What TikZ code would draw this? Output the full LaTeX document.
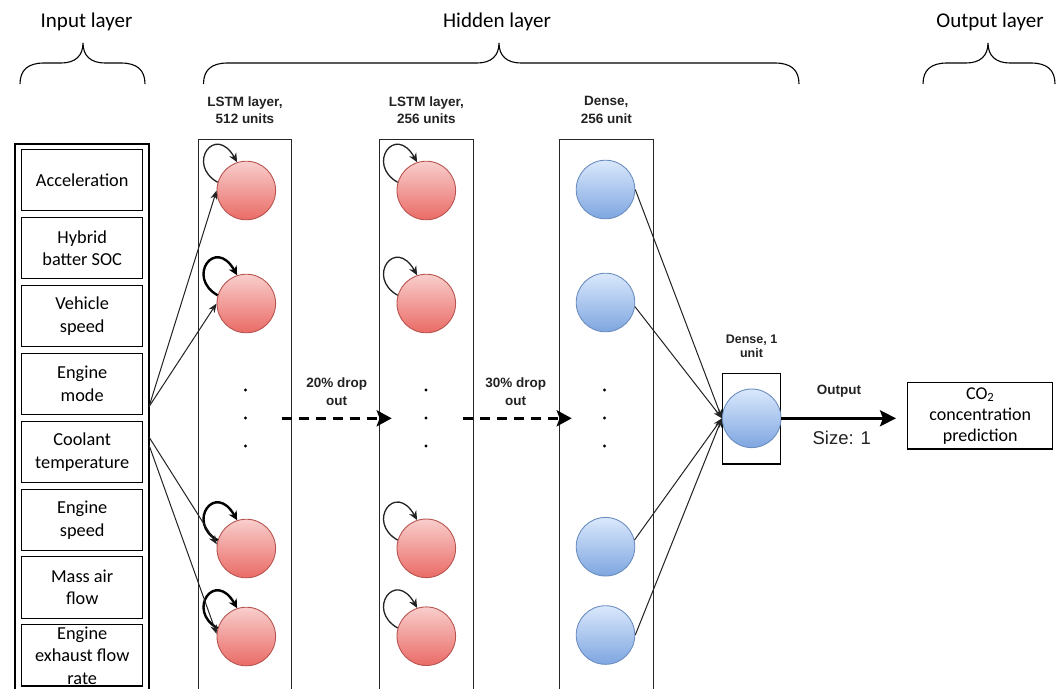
\documentclass[tikz,border=0pt]{standalone}
\usepackage{fontspec}
\setmainfont{Carlito}
\newfontfamily\arialf{Liberation Sans}
\usetikzlibrary{arrows.meta,calc}
\definecolor{redtop}{HTML}{F8CECC}
\definecolor{redbot}{HTML}{EA6B66}
\definecolor{redline}{HTML}{B85450}
\definecolor{bluetop}{HTML}{DAE8FC}
\definecolor{bluebot}{HTML}{7EA6E0}
\definecolor{blueline}{HTML}{6C8EBF}
\definecolor{ink}{HTML}{222222}
\begin{document}
\begin{tikzpicture}[x=1pt,y=-1pt,
  every node/.style={inner sep=0pt},
  inbox/.style={draw=black, line width=1.2pt, minimum width=121pt, minimum height=61.5pt, align=center, font=\fontsize{18.3}{22.5}\selectfont},
  colbox/.style={draw=black!85, line width=1.1pt},
  brace/.style={draw=black, line width=1.1pt},
  toplabel/.style={font=\fontsize{21}{25}\selectfont},
  title/.style={align=center, text=ink, font=\arialf\bfseries\fontsize{13.5}{17.5}\selectfont},
  rednode/.style={circle, minimum size=58.6pt, draw=redline, line width=0.9pt, top color=redtop, bottom color=redbot},
  bluenode/.style={circle, minimum size=58.6pt, draw=blueline, line width=0.9pt, top color=bluetop, bottom color=bluebot},
  conn/.style={draw=ink, line width=1pt, -{Stealth[length=9pt,width=7pt]}},
  loopthin/.style={draw=ink, line width=1.3pt, -{Stealth[length=9pt,width=8pt]}},
  loopbold/.style={draw=black, line width=2.4pt, -{Stealth[length=9pt,width=9pt]}},
  droparrow/.style={draw=black, line width=3pt, dash pattern=on 10pt off 7pt, -{Stealth[length=15pt,width=16pt,inset=3pt]}},
  outarrow/.style={draw=black, line width=3pt, -{Stealth[length=16pt,width=16pt,inset=3pt]}},
  dotmark/.style={fill=black}
]
\useasboundingbox (0,0) rectangle (1064,689);

% top labels
\node[toplabel] (tIn) at (86.5,22) {Input layer};
\node[toplabel] (tHid) at (497,22) {Hidden layer};
\node[toplabel] (tOut) at (990,22) {Output layer};

% braces
\draw[brace] (20,84) .. controls (20,70) and (28,63) .. (44,63) -- (61,63) .. controls (75,63) and (83,56) .. (83,43) .. controls (83,56) and (91,63) .. (105,63) -- (121,63) .. controls (137,63) and (145,70) .. (145,84);
\draw[brace] (203.5,84) .. controls (203.5,70) and (211.5,63) .. (227.5,63) -- (477,63) .. controls (491,63) and (499,56) .. (499,43) .. controls (499,56) and (507,63) .. (521,63) -- (775,63) .. controls (791,63) and (799,70) .. (799,84);
\draw[brace] (923,84) .. controls (923,70) and (931,63) .. (947,63) -- (966,63) .. controls (980,63) and (988,56) .. (988,43) .. controls (988,56) and (996,63) .. (1010,63) -- (1031,63) .. controls (1047,63) and (1055,70) .. (1055,84);

% input column
\draw[colbox, draw=black, line width=1.2pt] (15,689) |- (149,144) -- (149,689);
\node[inbox] (i1) at (82.2,180) {Acceleration};
\node[inbox] (i2) at (82.2,248) {Hybrid\\batter SOC};
\node[inbox] (i3) at (82.2,316) {Vehicle\\speed};
\node[inbox] (i4) at (82.2,384) {Engine\\mode};
\node[inbox] (i5) at (82.2,452) {Coolant\\temperature};
\node[inbox] (i6) at (82.2,520) {Engine\\speed};
\node[inbox] (i7) at (82.2,587.5) {Mass air\\flow};
\node[inbox] (i8) at (82.2,655.3) {Engine\\exhaust flow\\rate};

% column boxes
\draw[colbox] (198.3,689) |- (291.7,139.3) -- (291.7,689);
\draw[colbox] (379.3,689) |- (473.3,139.3) -- (473.3,689);
\draw[colbox] (559.3,689) |- (653.3,139.3) -- (653.3,689);

% titles
\node[title] (h1) at (245,110) {LSTM layer,\\512 units};
\node[title] (h2) at (426.3,110) {LSTM layer,\\256 units};
\node[title] (h3) at (606.3,110) {Dense,\\256 unit};

% LSTM 1
\node[rednode] (a1) at (246.3,190.5) {};
\node[rednode] (a2) at (246.3,303.5) {};
\node[rednode] (a3) at (246.3,548.5) {};
\node[rednode] (a4) at (246.3,636.5) {};
% LSTM 2
\node[rednode] (b1) at (426.3,190.5) {};
\node[rednode] (b2) at (426.3,303.5) {};
\node[rednode] (b3) at (426.3,548.3) {};
\node[rednode] (b4) at (426.3,636.2) {};
% Dense 256
\node[bluenode] (d1) at (605.5,189.5) {};
\node[bluenode] (d2) at (605.5,302.5) {};
\node[bluenode] (d3) at (605.5,546.7) {};
\node[bluenode] (d4) at (605.5,635) {};

% dots
\foreach \xx in {245.5,426,604.5}{
  \foreach \yy in {390,418,446}{
    \fill[dotmark] (\xx,\yy) circle (1.7);
  }
}

% self loops
\draw[loopthin] (a1.164) .. controls +(-32,-18) and +(-22,-39) .. (a1.108);
\draw[loopbold] (a2.164) .. controls +(-32,-18) and +(-22,-39) .. (a2.108);
\draw[loopbold] (a3.164) .. controls +(-32,-18) and +(-22,-39) .. (a3.108);
\draw[loopbold] (a4.164) .. controls +(-32,-18) and +(-22,-39) .. (a4.108);
\draw[loopthin] (b1.164) .. controls +(-32,-18) and +(-22,-39) .. (b1.108);
\draw[loopthin] (b2.164) .. controls +(-32,-18) and +(-22,-39) .. (b2.108);
\draw[loopthin] (b3.164) .. controls +(-32,-18) and +(-22,-39) .. (b3.108);
\draw[loopthin] (b4.164) .. controls +(-32,-18) and +(-22,-39) .. (b4.108);

% input connections
\coordinate (srcA) at (149,406.7);
\coordinate (srcB) at (149,437);
\coordinate (srcC) at (149,445);
\draw[conn] (srcA) -- (a1.west);
\draw[conn] (srcA) -- (a2.west);
\draw[conn] (srcB) -- (a3.172);
\draw[conn] (srcC) -- (a4.175);

% dropout arrows
\coordinate (dA0) at (281.7,418.3);
\coordinate (dA1) at (391.7,418.3);
\coordinate (dB0) at (463,418.3);
\coordinate (dB1) at (571.7,418.3);
\draw[droparrow] (dA0) -- (dA1);
\draw[droparrow] (dB0) -- (dB1);
\node[title] (p1) at (336.7,391.7) {20\% drop\\out};
\node[title] (p2) at (515.7,391.7) {30\% drop\\out};

% output dense
\draw[colbox, draw=black] (722.3,373.3) rectangle (780.7,464);
\node[bluenode] (o) at (751.7,418.3) {};
\node[title, font=\arialf\bfseries\fontsize{12.5}{14.5}\selectfont] (ot) at (751.5,346.5) {Dense, 1\\unit};
\draw[conn] (d1.east) -- (o.west);
\draw[conn] (d2.352) -- (o.west);
\draw[conn] (d3.13) -- (o.west);
\draw[conn] (d4.east) -- (o.west);

% output arrow
\coordinate (outEnd) at (896,418.3);
\draw[outarrow] (o.east) -- (outEnd);
\node[title] (outl) at (839,391) {Output};
\node[font=\arialf\fontsize{18.5}{22}\selectfont, text=ink] (sz) at (841.7,438) {Size: 1};

\node[draw=black, line width=1.2pt, minimum width=145pt, minimum height=66.7pt, align=center, font=\fontsize{18}{21}\selectfont] (co2) at (980.2,415.7) {CO\textsubscript{2}\\concentration\\prediction};
\end{tikzpicture}
\end{document}
